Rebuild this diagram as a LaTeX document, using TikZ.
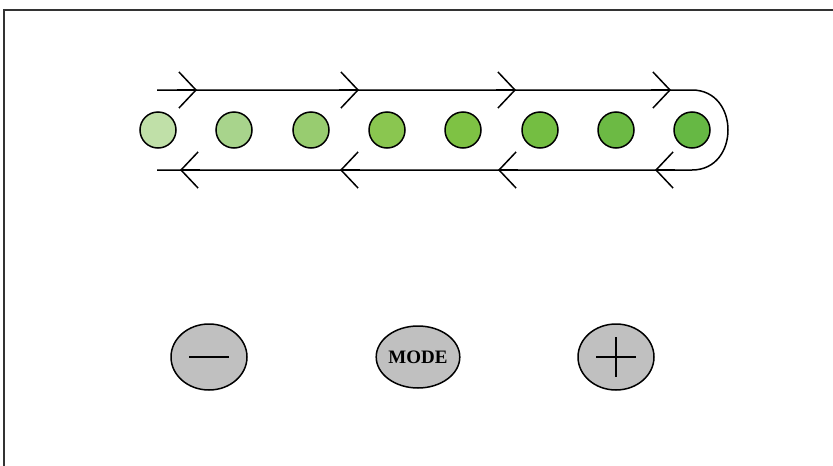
\documentclass[tikz,border=0pt]{standalone}
\usepackage{fontspec}
\newfontfamily\btnfont{Liberation Serif}
\usetikzlibrary{arrows.meta,shapes.geometric}

\definecolor{ledA}{HTML}{C0E0A8}
\definecolor{ledB}{HTML}{A8D48C}
\definecolor{ledC}{HTML}{98CC70}
\definecolor{ledD}{HTML}{8AC650}
\definecolor{ledE}{HTML}{7EC244}
\definecolor{ledF}{HTML}{74BE42}
\definecolor{ledG}{HTML}{6CBA44}
\definecolor{ledH}{HTML}{66B844}
\definecolor{btngray}{HTML}{C0C0C0}

\tikzset{
  wire/.style={line width=1.5pt},
  led/.style={circle, draw, line width=1.5pt, minimum size=36pt, inner sep=0pt},
  btn/.style={ellipse, draw, line width=1.5pt, fill=btngray, minimum width=76pt, minimum height=66pt, inner sep=0pt},
  barb/.style={-{Straight Barb[length=17pt,width=36pt]}}
}

\begin{document}
\begin{tikzpicture}[x=1pt, y=-1pt]
\useasboundingbox (0,0) rectangle (833,466);
% Cadre
\draw[line width=2pt, black!80] (4,466) -- (4,10) -- (833,10);
% Boucle
\coordinate (in) at (157,90);
\coordinate (turnA) at (692,90);
\coordinate (turnB) at (692,170);
\coordinate (out) at (157,170);
\draw[wire] (in) -- (turnA) .. controls (740,90) and (740,170) .. (turnB) -- (out);
\foreach \t in {197,359,516,671}
  \draw[wire, barb] (\t-20,90) -- (\t,90);
\foreach \t in {180,340,498,655}
  \draw[wire, barb] (\t+20,170) -- (\t,170);
% LEDs
\foreach \i/\x/\col in {1/158/ledA,2/234/ledB,3/311/ledC,4/387/ledD,5/463/ledE,6/540/ledF,7/616/ledG,8/692/ledH} {
  \node[led, fill=\col] (led\i) at (\x,130) {};
}
% Boutons
\node[btn] (minus) at (209,357) {};
\node[btn, minimum width=70pt, minimum height=62pt] (mode) at (418,357) {\btnfont\fontsize{19}{19}\selectfont\bfseries MODE};
\node[btn] (plus) at (616,357) {};
\draw[wire] (minus.center) ++(-20,0) -- ++(40,0);
\draw[wire] (plus.center) ++(-20,0) -- ++(40,0);
\draw[wire] (plus.center) ++(0,-20) -- ++(0,40);
\end{tikzpicture}
\end{document}
